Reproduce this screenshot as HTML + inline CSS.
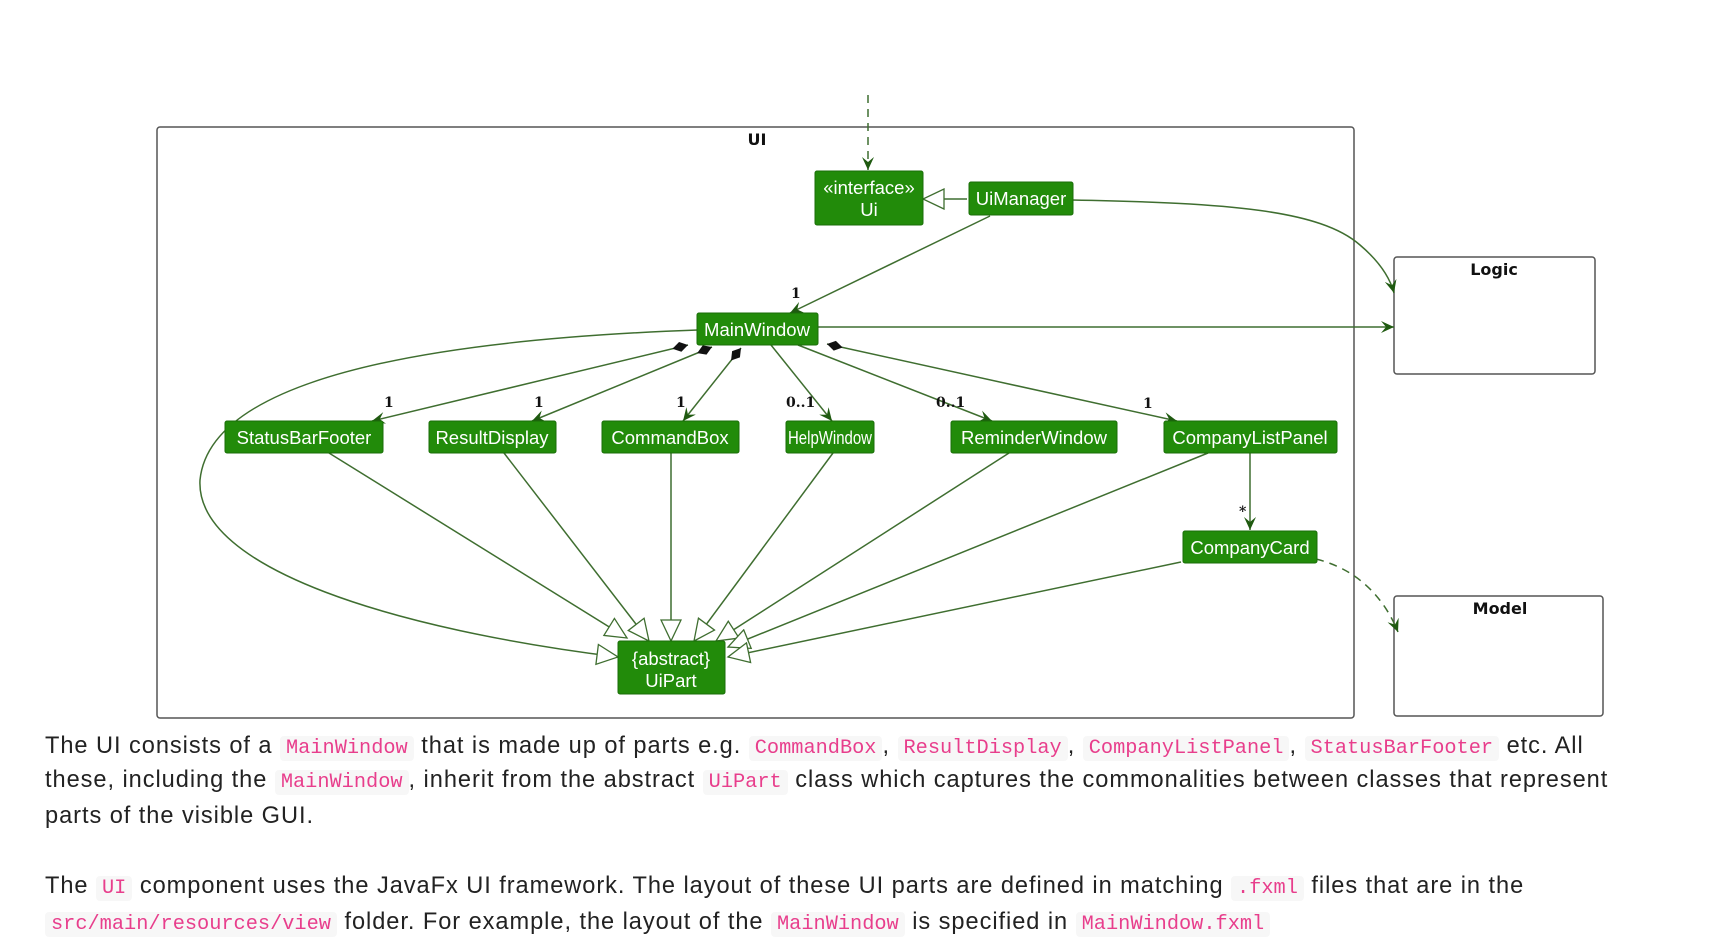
<!DOCTYPE html>
<html><head><meta charset="utf-8">
<style>
body{margin:0;width:1710px;height:947px;background:#fff;overflow:hidden;position:relative;font-family:"Liberation Sans","DejaVu Sans",sans-serif;}
svg{position:absolute;left:0;top:0}
.p{position:absolute;left:45px;font-size:23.6px;color:#222;line-height:35px;white-space:nowrap;letter-spacing:0.95px}
code{font-family:"Liberation Mono","DejaVu Sans Mono",monospace;color:#e83e8c;background:#f7f7f7;border-radius:4px;padding:1px 6px;font-size:20.3px;letter-spacing:0}
</style></head><body>
<svg width="1710" height="947" viewBox="0 0 1710 947" font-family="DejaVu Sans, sans-serif">
<defs>
<marker id="ar" markerWidth="14" markerHeight="12" refX="13" refY="6" orient="auto" markerUnits="userSpaceOnUse"><path d="M0,0 L13,6 L0,12 L5,6 Z" fill="#1f5a10"/></marker>
<marker id="tri" markerWidth="24" markerHeight="22" refX="22" refY="11" orient="auto" markerUnits="userSpaceOnUse"><path d="M1,1 L22,11 L1,21 Z" fill="#fff" stroke="#3f6e30" stroke-width="1.3"/></marker>
<marker id="dia" markerWidth="20" markerHeight="12" refX="1" refY="6" orient="auto" markerUnits="userSpaceOnUse"><path d="M1,6 L9,1 L17,6 L9,11 Z" fill="#111"/></marker>
</defs>
<g fill="none" stroke="#555" stroke-width="1.5">
<rect x="157" y="127" width="1197" height="591" rx="3"/>
<rect x="1394" y="257" width="201" height="117" rx="3"/>
<rect x="1394" y="596" width="209" height="120" rx="3"/>
</g>
<g font-weight="bold" font-size="16" text-anchor="middle" fill="#111">
<text x="757" y="145">UI</text>
<text x="1494" y="275">Logic</text>
<text x="1500" y="614">Model</text>
</g>
<g stroke="#3f6e30" stroke-width="1.5" fill="none">
<line x1="868" y1="95" x2="868" y2="170" stroke-dasharray="8,6" marker-end="url(#ar)"/>
<line x1="967" y1="199" x2="923" y2="199" marker-end="url(#tri)"/>
<line x1="990" y1="216" x2="790" y2="313" marker-end="url(#ar)"/>
<path d="M1072,200 C1230,203 1320,210 1360,245 C1380,262 1390,278 1394,293" marker-end="url(#ar)"/>
<line x1="818" y1="327" x2="1394" y2="327" marker-end="url(#ar)"/>
<path d="M698,330 C420,340 210,380 200,480 C195,570 400,630 618,657" marker-end="url(#tri)"/>
<line x1="688" y1="345" x2="372" y2="421" marker-start="url(#dia)" marker-end="url(#ar)"/>
<line x1="712" y1="347" x2="532" y2="421" marker-start="url(#dia)" marker-end="url(#ar)"/>
<line x1="741" y1="348" x2="683" y2="421" marker-start="url(#dia)" marker-end="url(#ar)"/>
<line x1="771" y1="345" x2="832" y2="421" marker-end="url(#ar)"/>
<line x1="798" y1="345" x2="992" y2="421" marker-end="url(#ar)"/>
<line x1="827" y1="344" x2="1177" y2="421" marker-start="url(#dia)" marker-end="url(#ar)"/>
<line x1="1250" y1="453" x2="1250" y2="530" marker-end="url(#ar)"/>
<path d="M1316,559 C1360,570 1385,600 1398,632" stroke-dasharray="8,6" marker-end="url(#ar)"/>
<line x1="329" y1="453" x2="627" y2="638" marker-end="url(#tri)"/>
<line x1="504" y1="453" x2="649" y2="641" marker-end="url(#tri)"/>
<line x1="671" y1="453" x2="671" y2="641" marker-end="url(#tri)"/>
<line x1="833" y1="453" x2="694" y2="641" marker-end="url(#tri)"/>
<line x1="1009" y1="453" x2="716" y2="641" marker-end="url(#tri)"/>
<line x1="1208" y1="453" x2="728" y2="647" marker-end="url(#tri)"/>
<line x1="1181" y1="562" x2="728" y2="657" marker-end="url(#tri)"/>
</g>
<g fill="#228b0a" stroke="#1a6e08" stroke-width="1">
<rect x="815" y="171" width="108" height="54" rx="2"/>
<rect x="969" y="182" width="104" height="33" rx="2"/>
<rect x="697" y="313" width="121" height="32" rx="2"/>
<rect x="225" y="421" width="158" height="32" rx="2"/>
<rect x="429" y="421" width="127" height="32" rx="2"/>
<rect x="602" y="421" width="137" height="32" rx="2"/>
<rect x="786" y="421" width="88" height="32" rx="2"/>
<rect x="951" y="421" width="166" height="32" rx="2"/>
<rect x="1164" y="421" width="173" height="32" rx="2"/>
<rect x="1183" y="531" width="134" height="32" rx="2"/>
<rect x="618" y="641" width="107" height="53" rx="2"/>
</g>
<g fill="#fff" font-size="18.5" text-anchor="middle" font-family="Liberation Sans, sans-serif">
<text x="869" y="194">«interface»</text><text x="869" y="216">Ui</text>
<text x="1021" y="205">UiManager</text>
<text x="757" y="336">MainWindow</text>
<text x="304" y="444">StatusBarFooter</text>
<text x="492" y="444">ResultDisplay</text>
<text x="670" y="444">CommandBox</text>
<text x="830" y="444" textLength="84" lengthAdjust="spacingAndGlyphs">HelpWindow</text>
<text x="1034" y="444">ReminderWindow</text>
<text x="1250" y="444">CompanyListPanel</text>
<text x="1250" y="554">CompanyCard</text>
<text x="671" y="665">{abstract}</text><text x="671" y="687">UiPart</text>
</g>
<g fill="#111" font-size="14" font-weight="bold" font-family="DejaVu Serif, serif">
<text x="791" y="298">1</text>
<text x="384" y="407">1</text>
<text x="534" y="407">1</text>
<text x="676" y="407">1</text>
<text x="786" y="407">0..1</text>
<text x="936" y="407">0..1</text>
<text x="1143" y="408">1</text>
<text x="1239" y="516">*</text>
</g>
</svg>
<div class="p" style="top:729px">The UI consists of a <code>MainWindow</code> that is made up of parts e.g. <code>CommandBox</code>, <code>ResultDisplay</code>, <code>CompanyListPanel</code>, <code>StatusBarFooter</code> etc. All</div>
<div class="p" style="top:763px">these, including the <code>MainWindow</code>, inherit from the abstract <code>UiPart</code> class which captures the commonalities between classes that represent</div>
<div class="p" style="top:799px">parts of the visible GUI.</div>
<div class="p" style="top:869px">The <code>UI</code> component uses the JavaFx UI framework. The layout of these UI parts are defined in matching <code>.fxml</code> files that are in the</div>
<div class="p" style="top:905px"><code>src/main/resources/view</code> folder. For example, the layout of the <code>MainWindow</code> is specified in <code>MainWindow.fxml</code></div>
</body></html>
